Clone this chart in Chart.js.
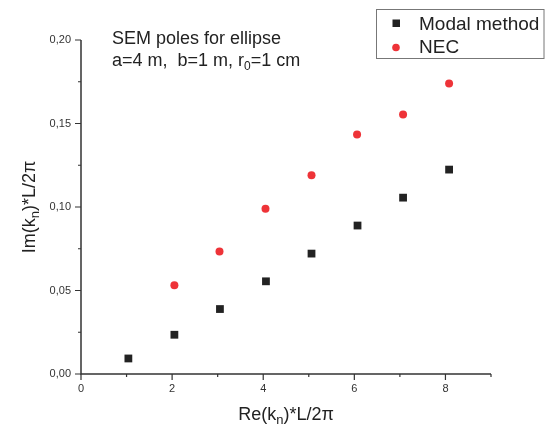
<!DOCTYPE html>
<html>
<head>
<meta charset="utf-8">
<script src="https://cdn.jsdelivr.net/npm/chart.js@4"></script>
<style>
html,body{margin:0;padding:0;background:#fff;}
#wrap{width:550px;height:426px;position:relative;}
</style>
</head>
<body>
<div id="wrap"><canvas id="c" width="550" height="426"></canvas></div>
<script>
// ---- data ----
const modalX = [1.04, 2.05, 3.05, 4.06, 5.06, 6.07, 7.07, 8.08];
const modalY = [0.0093, 0.0235, 0.0389, 0.0555, 0.0721, 0.0889, 0.1056, 0.1224];
const necX = [2.05, 3.04, 4.05, 5.06, 6.06, 7.07, 8.08];
const necY = [0.0532, 0.0733, 0.0990, 0.1190, 0.1434, 0.1554, 0.1740];
const xTickLabels = ['0', '2', '4', '6', '8'];
const yTickLabels = ['0,00', '0,05', '0,10', '0,15', '0,20'];
const seriesNames = ['Modal method', 'NEC'];
const titleLine1 = 'SEM poles for ellipse';

const FONT = '"Liberation Sans", Arial, Helvetica, sans-serif';
const RED = '#ee3338';
const BLACK = '#222222';
const AXIS = '#333333';

function pts(xs, ys){ return xs.map((x,i)=>({x:x, y:ys[i]})); }

const overlay = {
  id: 'overlay',
  afterDraw(chart){
    const ctx = chart.ctx;
    const xs = chart.scales.x, ys = chart.scales.y;
    const ca = chart.chartArea;
    ctx.save();
    // axis lines
    ctx.strokeStyle = AXIS;
    ctx.lineWidth = 1.5;
    ctx.beginPath();
    ctx.moveTo(ca.left, ys.getPixelForValue(0.20));
    ctx.lineTo(ca.left, ca.bottom);
    ctx.lineTo(xs.getPixelForValue(9), ca.bottom);
    ctx.stroke();
    // ticks
    ctx.lineWidth = 1.2;
    ctx.beginPath();
    for (let v = 0; v <= 9; v++) {
      const px = xs.getPixelForValue(v);
      const len = (v % 2 === 0) ? 6 : 3;
      ctx.moveTo(px, ca.bottom); ctx.lineTo(px, ca.bottom + len);
    }
    for (let i = 0; i <= 8; i++) {
      const v = i * 0.025;
      const py = ys.getPixelForValue(v);
      const len = (i % 2 === 0) ? 6 : 3;
      ctx.moveTo(ca.left, py); ctx.lineTo(ca.left - len, py);
    }
    ctx.stroke();

    // annotation title
    ctx.fillStyle = '#222';
    ctx.textBaseline = 'alphabetic';
    ctx.textAlign = 'left';
    ctx.font = '18px ' + FONT;
    ctx.fillText(titleLine1, 112, 44);
    let x = 112;
    const parts = ['a=4 m,  b=1 m, r'];
    ctx.fillText(parts[0], x, 66);
    x += ctx.measureText(parts[0]).width;
    ctx.font = '12px ' + FONT;
    ctx.fillText('0', x, 70);
    x += ctx.measureText('0').width;
    ctx.font = '18px ' + FONT;
    ctx.fillText('=1 cm', x, 66);

    // axis titles
    function drawTitle(segs, cx, cy, rot){
      ctx.save();
      ctx.translate(cx, cy);
      ctx.rotate(rot);
      let w = 0;
      segs.forEach(s=>{ ctx.font = s.size + 'px ' + FONT; w += ctx.measureText(s.t).width; });
      let xx = -w/2;
      segs.forEach(s=>{
        ctx.font = s.size + 'px ' + FONT;
        ctx.fillText(s.t, xx, s.dy || 0);
        xx += ctx.measureText(s.t).width;
      });
      ctx.restore();
    }
    const midX = (ca.left + xs.getPixelForValue(9)) / 2;
    drawTitle([{t:'Re(k',size:18},{t:'n',size:13,dy:4},{t:')*L/2\u03c0',size:18}], midX, 420, 0);
    drawTitle([{t:'Im(k',size:18},{t:'n',size:13,dy:4},{t:')*L/2\u03c0',size:18}], 35, (ca.top+ca.bottom)/2, -Math.PI/2);

    // legend
    ctx.strokeStyle = '#777';
    ctx.lineWidth = 1;
    ctx.strokeRect(376.5, 9.5, 167.5, 49);
    ctx.fillStyle = BLACK;
    ctx.fillRect(392.5, 19.5, 7.5, 7.5);
    ctx.fillStyle = RED;
    ctx.beginPath(); ctx.arc(396, 47.5, 3.8, 0, Math.PI*2); ctx.fill();
    ctx.fillStyle = '#222';
    ctx.font = '19px ' + FONT;
    ctx.fillText(seriesNames[0], 419, 29.5);
    ctx.fillText(seriesNames[1], 419, 53);
    ctx.restore();
  }
};

new Chart(document.getElementById('c'), {
  type: 'scatter',
  data: {
    datasets: [
      { label: seriesNames[0], data: pts(modalX, modalY), pointStyle: 'rect', pointRadius: 5.5, pointHoverRadius: 5.5,
        backgroundColor: BLACK, borderColor: BLACK, borderWidth: 0 },
      { label: seriesNames[1], data: pts(necX, necY), pointStyle: 'circle', pointRadius: 4, pointHoverRadius: 4,
        backgroundColor: RED, borderColor: RED, borderWidth: 0 }
    ]
  },
  options: {
    responsive: false,
    animation: false,
    devicePixelRatio: 1,
    layout: { padding: { left: 0, top: 40, right: 59, bottom: 0 } },
    plugins: { legend: { display: false }, tooltip: { enabled: false }, title: { display: false } },
    scales: {
      x: {
        type: 'linear', min: 0, max: 9,
        afterFit(s){ s.height = 52; },
        grid: { display: false, drawTicks: false },
        border: { display: false },
        ticks: {
          stepSize: 1, padding: 8, color: '#333', font: { family: FONT, size: 11 },
          autoSkip: false, maxRotation: 0,
          callback(v){ return (v % 2 === 0) ? xTickLabels[v/2] : ''; }
        }
      },
      y: {
        type: 'linear', min: 0, max: 0.2,
        afterFit(s){ s.width = 81; },
        grid: { display: false, drawTicks: false },
        border: { display: false },
        ticks: {
          stepSize: 0.05, padding: 10, color: '#333', font: { family: FONT, size: 11 },
          callback(v){ const i = Math.round(v/0.05); return yTickLabels[i]; }
        }
      }
    }
  },
  plugins: [overlay]
});
</script>
</body>
</html>
